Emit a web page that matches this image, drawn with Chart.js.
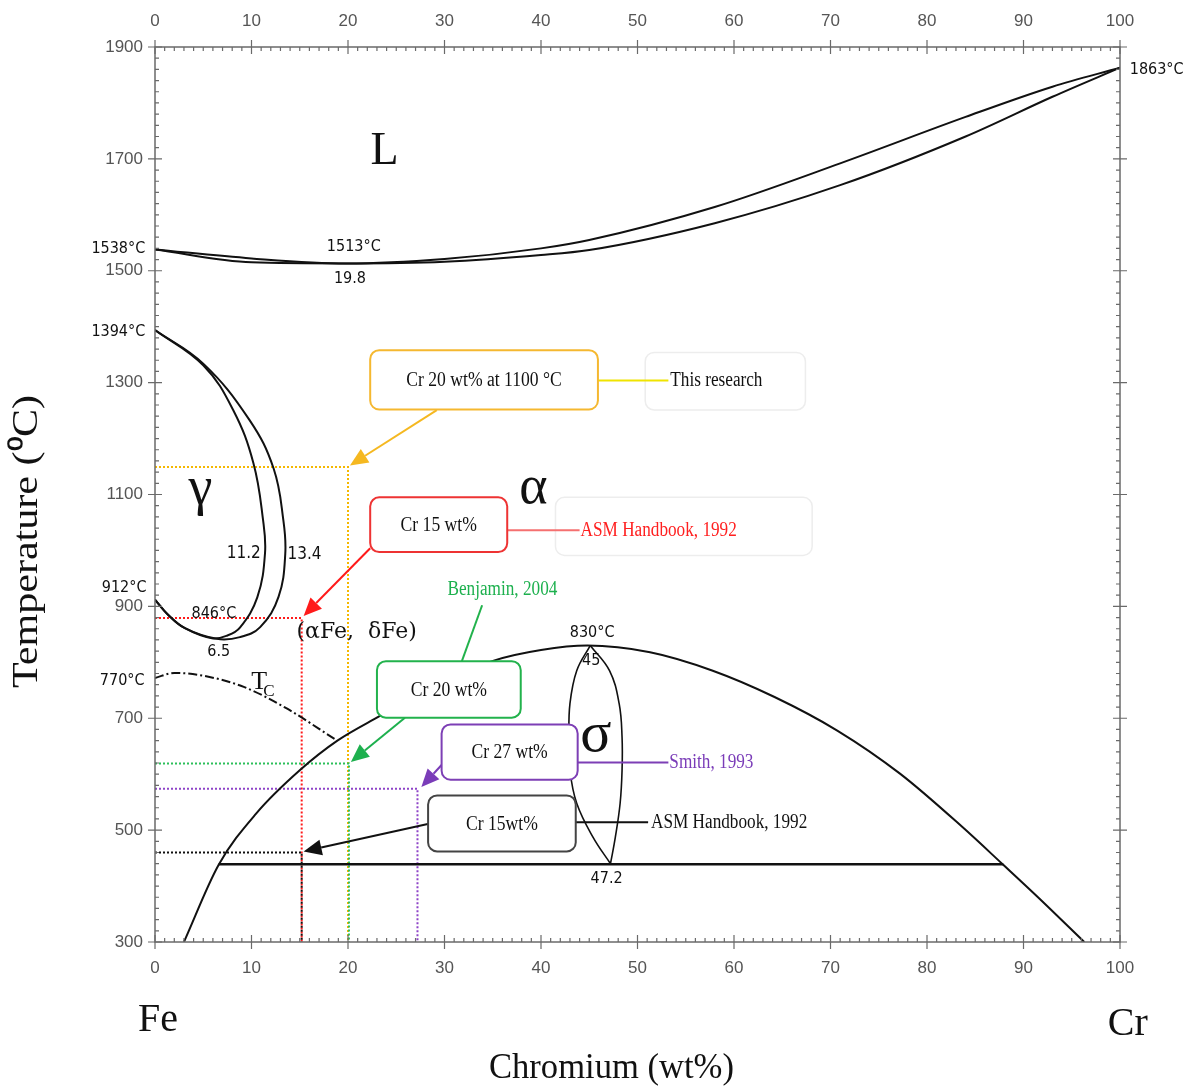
<!DOCTYPE html>
<html>
<head>
<meta charset="utf-8">
<script src="https://cdn.jsdelivr.net/npm/chart.js@4.4.1/dist/chart.umd.min.js"></script>
<style>
html,body{margin:0;padding:0;background:#fff;}
</style>
</head>
<body>
<canvas id="myChart" width="1192" height="1086"></canvas>
<script>
'use strict';
// liquidus / solidus (wt% Cr, deg C)
let liquidusCr = [0, 10, 19.8, 30, 40, 45, 58, 71, 84, 93, 100];
let liquidusT = [1538, 1522, 1513, 1521, 1540, 1555, 1614, 1692, 1775, 1829, 1863];
let solidusCr = [0, 10, 19.8, 30, 40, 45, 58, 71, 84, 93, 100];
let solidusT = [1538, 1515, 1513, 1516, 1528, 1537, 1585, 1653, 1740, 1811, 1863];

// gamma loop
let loopOuterCr = [0, 5.0, 9.8, 12.3, 13.3, 13.5, 12.8, 10.9, 8.8, 6.4, 3.1, 1.3, 0];
let loopOuterT = [1394, 1334, 1233, 1146, 1054, 994, 917, 863, 845, 842, 861, 886, 912];
let loopInnerCr = [0, 5.0, 8.1, 10.2, 11.2, 11.4, 10.6, 8.8, 7.5, 5.9, 3.1, 1.3, 0];
let loopInnerT = [1394, 1331, 1251, 1156, 1054, 995, 916, 862, 848, 843, 861, 886, 912];

// alpha / alpha+sigma boundary and eutectoid
let domeCr = [3.0, 6.6, 10.5, 15.0, 18.9, 23.4, 29, 35.1, 40, 44.8, 51.3, 57.8, 64.2, 70.7, 77.2, 83.7, 87.9, 91.5, 96.3];
let domeT = [300, 438, 530, 607, 660, 705, 760, 803, 822, 830, 818, 785, 738, 678, 601, 505, 438, 380, 300];
let eutectoidCr = [6.6, 87.9];
let eutectoidT = [439, 439];

// sigma phase field
let sigmaLeftCr = [45.1, 43.7, 43.0, 42.9, 43.0, 43.7, 45.4, 47.2];
let sigmaLeftT = [830, 785, 726, 666, 607, 548, 487, 440];
let sigmaRightCr = [45.1, 47.1, 48.1, 48.4, 48.4, 48.2, 47.7, 47.2];
let sigmaRightT = [830, 785, 726, 666, 607, 548, 487, 440];

// Curie line
let curieCr = [0, 2, 5, 9.2, 13.7, 18.6];
let curieT = [772, 781, 776, 756, 717, 663];

// reference conditions (yellow, red, green, purple, black)
let guideCr = [20, 15.2, 20.1, 27.2, 15.2];
let guideT = [1149, 879, 619, 574, 460];
let guideColors = ['#f5b800', '#ff1a1a', '#2cbf5a', '#8e44c8', '#111111'];
let guideOrder = [5, 4, 2, 3, 1];

function toPoints(xs, ys){
  let pts = [];
  for (let i = 0; i < xs.length; i++) {
    pts.push({x: xs[i], y: ys[i]});
  }
  return pts;
}

function curve(xs, ys, width, mode, dash){
  return {
    data: toPoints(xs, ys),
    showLine: true,
    borderColor: '#111',
    borderWidth: width,
    borderDash: dash || [],
    pointRadius: 0,
    tension: 0.4,
    cubicInterpolationMode: mode,
    order: 0
  };
}

let datasets = [
  curve(liquidusCr, liquidusT, 2, 'monotone'),
  curve(solidusCr, solidusT, 2, 'monotone'),
  curve(loopOuterCr, loopOuterT, 2, 'default'),
  curve(loopInnerCr, loopInnerT, 2, 'default'),
  curve(domeCr, domeT, 2, 'monotone'),
  curve(eutectoidCr, eutectoidT, 2.6, 'default'),
  curve(sigmaLeftCr, sigmaLeftT, 1.6, 'default'),
  curve(sigmaRightCr, sigmaRightT, 1.6, 'default'),
  curve(curieCr, curieT, 2, 'monotone', [9, 3, 2, 3])
];
for (let i = 0; i < guideCr.length; i++) {
  datasets.push({
    data: [{x: 0, y: guideT[i]}, {x: guideCr[i], y: guideT[i]}, {x: guideCr[i], y: 300}],
    showLine: true,
    borderColor: guideColors[i],
    borderWidth: 2,
    borderDash: [2, 2],
    pointRadius: 0,
    tension: 0,
    order: guideOrder[i]
  });
}

// call-out boxes, all in data coordinates
let notes = [
  {box: [22.3, 1358, 45.9, 1252], color: '#f5b830', text: 'Cr 20 wt% at 1100 \u00B0C', tail: [29.2, 1251], tip: [20.2, 1152], arrow: '#f5b820',
    link: [45.9, 1304, 53.2, 1304], linkColor: '#f0e400', cite: 'This research', citeAt: [53.4, 1304], citeColor: '#111', citeAlign: 'left'},
  {box: [22.3, 1095, 36.5, 997], color: '#ee3333', text: 'Cr 15 wt%', tail: [22.3, 1004], tip: [15.4, 883], arrow: '#ff1a1a',
    link: [36.5, 1036, 44.0, 1036], linkColor: '#f57070', cite: 'ASM Handbook, 1992', citeAt: [44.1, 1036], citeColor: '#ff2020', citeAlign: 'left'},
  {box: [23.0, 802, 37.9, 701], color: '#22b24c', text: 'Cr 20 wt%', tail: [25.9, 701], tip: [20.3, 622], arrow: '#1db04e',
    link: [31.8, 802, 33.9, 902], linkColor: '#22b24c', cite: 'Benjamin, 2004', citeAt: [36.0, 929], citeColor: '#1db04e', citeAlign: 'center'},
  {box: [29.7, 689, 43.8, 590], color: '#7d3fb5', text: 'Cr 27 wt%', tail: [30.1, 624], tip: [27.6, 577], arrow: '#7a3cb8',
    link: [43.8, 621, 53.2, 621], linkColor: '#7d3fb5', cite: 'Smith, 1993', citeAt: [53.3, 621], citeColor: '#7a3cb8', citeAlign: 'left'},
  {box: [28.3, 562, 43.6, 462], color: '#444', text: 'Cr 15wt%', tail: [28.5, 512], tip: [15.4, 462], arrow: '#111',
    link: [43.6, 514, 51.1, 514], linkColor: '#111', cite: 'ASM Handbook, 1992', citeAt: [51.4, 514], citeColor: '#111', citeAlign: 'left'}
];
let faintBoxes = [[50.8, 1354, 67.4, 1251], [41.5, 1095, 68.1, 991]];

let labels = [
  {t: 'L', at: [23.8, 1712], font: '46px "Liberation Serif"'},
  {t: '\u03B3', at: [4.7, 1108], font: '54px "Liberation Serif"'},
  {t: '\u03B1', at: [39.2, 1111], font: '54px "Liberation Serif"'},
  {t: '\u03C3', at: [45.7, 668], font: '58px "Liberation Serif"'},
  {t: '(\u03B1Fe,  \u03B4Fe)', at: [20.9, 853], font: '22px "DejaVu Serif"'},
  {t: 'T', at: [10.8, 764], font: '26px "Liberation Serif"'},
  {t: 'C', at: [11.8, 747], font: '17px "Liberation Serif"'},
  {t: '1538\u00B0C', at: [-3.8, 1539], font: '16px "DejaVu Sans"'},
  {t: '1513\u00B0C', at: [20.6, 1542], font: '16px "DejaVu Sans"'},
  {t: '19.8', at: [20.2, 1485], font: '16px "DejaVu Sans"'},
  {t: '1394\u00B0C', at: [-3.8, 1390], font: '16px "DejaVu Sans"'},
  {t: '912\u00B0C', at: [-3.2, 934], font: '16px "DejaVu Sans"'},
  {t: '770\u00B0C', at: [-3.4, 766], font: '16px "DejaVu Sans"'},
  {t: '846\u00B0C', at: [6.1, 887], font: '16px "DejaVu Sans"'},
  {t: '6.5', at: [6.6, 818], font: '16px "DejaVu Sans"'},
  {t: '11.2', at: [9.2, 995], font: '17px "DejaVu Sans"'},
  {t: '13.4', at: [15.5, 993], font: '17px "DejaVu Sans"'},
  {t: '830\u00B0C', at: [45.3, 853], font: '16px "DejaVu Sans"'},
  {t: '45', at: [45.2, 802], font: '16px "DejaVu Sans"'},
  {t: '47.2', at: [46.8, 413], font: '16px "DejaVu Sans"'},
  {t: '1863\u00B0C', at: [103.8, 1859], font: '16px "DejaVu Sans"'},
  {t: 'Fe', at: [0.3, 159], font: '40px "Liberation Serif"'},
  {t: 'Cr', at: [100.8, 152], font: '40px "Liberation Serif"'}
];

function drawText(ctx, str, cx, cy, font, color, align, squeeze){
  ctx.save();
  ctx.font = font;
  ctx.fillStyle = color;
  ctx.textAlign = align || 'center';
  ctx.textBaseline = 'middle';
  ctx.translate(cx, cy);
  ctx.scale(squeeze || 1, 1);
  ctx.fillText(str, 0, 0);
  ctx.restore();
}

// axis title stretched to the length it has in the figure
function drawTitle(ctx, str, cx, cy, rot, len){
  ctx.save();
  ctx.font = '35px "Liberation Serif"';
  ctx.fillStyle = '#111';
  ctx.textAlign = 'center';
  ctx.textBaseline = 'middle';
  ctx.translate(cx, cy);
  ctx.rotate(rot);
  ctx.scale(len / ctx.measureText(str).width, 1);
  ctx.fillText(str, 0, 0);
  ctx.restore();
}

function roundBox(ctx, x1, y1, x2, y2, r){
  ctx.beginPath();
  ctx.moveTo(x1 + r, y1);
  ctx.arcTo(x2, y1, x2, y2, r);
  ctx.arcTo(x2, y2, x1, y2, r);
  ctx.arcTo(x1, y2, x1, y1, r);
  ctx.arcTo(x1, y1, x2, y1, r);
  ctx.closePath();
}

function drawArrow(ctx, x1, y1, x2, y2, color){
  let ang = Math.atan2(y2 - y1, x2 - x1);
  let head = 18, half = 8;
  let bx = x2 - head * Math.cos(ang), by = y2 - head * Math.sin(ang);
  ctx.strokeStyle = color;
  ctx.fillStyle = color;
  ctx.lineWidth = 2;
  ctx.beginPath();
  ctx.moveTo(x1, y1);
  ctx.lineTo(bx, by);
  ctx.stroke();
  ctx.beginPath();
  ctx.moveTo(x2, y2);
  ctx.lineTo(bx + half * Math.sin(ang), by - half * Math.cos(ang));
  ctx.lineTo(bx - half * Math.sin(ang), by + half * Math.cos(ang));
  ctx.closePath();
  ctx.fill();
}

const phasePlugin = {
  id: 'phasePlugin',
  beforeDraw(chart){
    let ctx = chart.ctx;
    ctx.save();
    ctx.fillStyle = '#fff';
    ctx.fillRect(0, 0, chart.width, chart.height);
    ctx.restore();
  },
  afterDatasetsDraw(chart){
    let ctx = chart.ctx;
    let xs = chart.scales.x, ys = chart.scales.y;
    let a = chart.chartArea;
    let px = v => xs.getPixelForValue(v);
    let py = v => ys.getPixelForValue(v);
    ctx.save();

    // frame and tick marks
    ctx.strokeStyle = '#6a6a6a';
    ctx.lineWidth = 1.5;
    ctx.strokeRect(a.left, a.top, a.right - a.left, a.bottom - a.top);
    ctx.lineWidth = 1.2;
    ctx.beginPath();
    for (let v = 0; v <= 100; v++) {
      let xp = px(v);
      let major = v % 10 === 0;
      ctx.moveTo(xp, a.top - (major ? 7 : 0));
      ctx.lineTo(xp, a.top + (major ? 7 : 4));
      ctx.moveTo(xp, a.bottom + (major ? 7 : 0));
      ctx.lineTo(xp, a.bottom - (major ? 7 : 4));
    }
    for (let t = 300; t <= 1900; t += 20) {
      let yp = py(t);
      let major = (t - 300) % 200 === 0;
      ctx.moveTo(a.left - (major ? 7 : 0), yp);
      ctx.lineTo(a.left + (major ? 7 : 4), yp);
      ctx.moveTo(a.right + (major ? 7 : 0), yp);
      ctx.lineTo(a.right - (major ? 7 : 4), yp);
    }
    ctx.stroke();

    // faint frames round two citations
    ctx.strokeStyle = '#ededed';
    ctx.lineWidth = 1.5;
    for (let i = 0; i < faintBoxes.length; i++) {
      let b = faintBoxes[i];
      roundBox(ctx, px(b[0]), py(b[1]), px(b[2]), py(b[3]), 9);
      ctx.stroke();
    }

    // call-outs
    for (let i = 0; i < notes.length; i++) {
      let n = notes[i];
      ctx.strokeStyle = n.linkColor;
      ctx.lineWidth = 2;
      ctx.beginPath();
      ctx.moveTo(px(n.link[0]), py(n.link[1]));
      ctx.lineTo(px(n.link[2]), py(n.link[3]));
      ctx.stroke();
      drawArrow(ctx, px(n.tail[0]), py(n.tail[1]), px(n.tip[0]), py(n.tip[1]), n.arrow);
      let x1 = px(n.box[0]), y1 = py(n.box[1]), x2 = px(n.box[2]), y2 = py(n.box[3]);
      roundBox(ctx, x1, y1, x2, y2, 9);
      ctx.fillStyle = '#fff';
      ctx.fill();
      ctx.strokeStyle = n.color;
      ctx.lineWidth = 2;
      ctx.stroke();
      drawText(ctx, n.text, (x1 + x2) / 2, (y1 + y2) / 2 + 1, '20px "Liberation Serif"', '#111', 'center', 0.88);
      drawText(ctx, n.cite, px(n.citeAt[0]), py(n.citeAt[1]), '20px "Liberation Serif"', n.citeColor, n.citeAlign, 0.86);
    }

    // phase and point labels
    for (let i = 0; i < labels.length; i++) {
      let l = labels[i];
      drawText(ctx, l.t, px(l.at[0]), py(l.at[1]), l.font, '#111', 'center', l.font.indexOf('DejaVu Sans') >= 0 ? 0.9 : 1);
    }

    // axis titles
    drawTitle(ctx, 'Chromium (wt%)', px(47.3), py(73), 0, 245);
    drawTitle(ctx, 'Temperature (\u2070C)', 28, py(1016), -Math.PI / 2, 293);
    ctx.restore();
  }
};

Chart.defaults.font.family = '"Liberation Sans", Arial, sans-serif';

let tickFont = {family: '"Liberation Sans"', size: 17};
let plainTick = v => String(v);
let config = {
  type: 'scatter',
  data: {datasets: datasets},
  options: {
    responsive: false,
    animation: false,
    plugins: {legend: {display: false}, tooltip: {enabled: false}},
    layout: {padding: 0},
    scales: {
      x: {
        type: 'linear', position: 'bottom', min: 0, max: 100,
        grid: {display: false, drawTicks: false}, border: {display: false},
        ticks: {stepSize: 10, padding: 16, color: '#555', font: tickFont, maxRotation: 0, callback: plainTick},
        afterFit(s){ s.height = 144; }
      },
      x2: {
        type: 'linear', position: 'top', min: 0, max: 100,
        grid: {display: false, drawTicks: false}, border: {display: false},
        ticks: {stepSize: 10, padding: 15, color: '#555', font: tickFont, maxRotation: 0, callback: plainTick},
        afterFit(s){ s.height = 47; }
      },
      y: {
        type: 'linear', position: 'left', min: 300, max: 1900,
        grid: {display: false, drawTicks: false}, border: {display: false},
        ticks: {stepSize: 200, padding: 12, color: '#555', font: tickFont, callback: plainTick},
        afterFit(s){ s.width = 155; }
      },
      y2: {
        type: 'linear', position: 'right', min: 300, max: 1900,
        grid: {display: false, drawTicks: false}, border: {display: false},
        ticks: {display: false},
        afterFit(s){ s.width = 72; }
      }
    }
  },
  plugins: [phasePlugin]
};

let myChart = new Chart(document.getElementById('myChart'), config);
</script>
</body>
</html>
